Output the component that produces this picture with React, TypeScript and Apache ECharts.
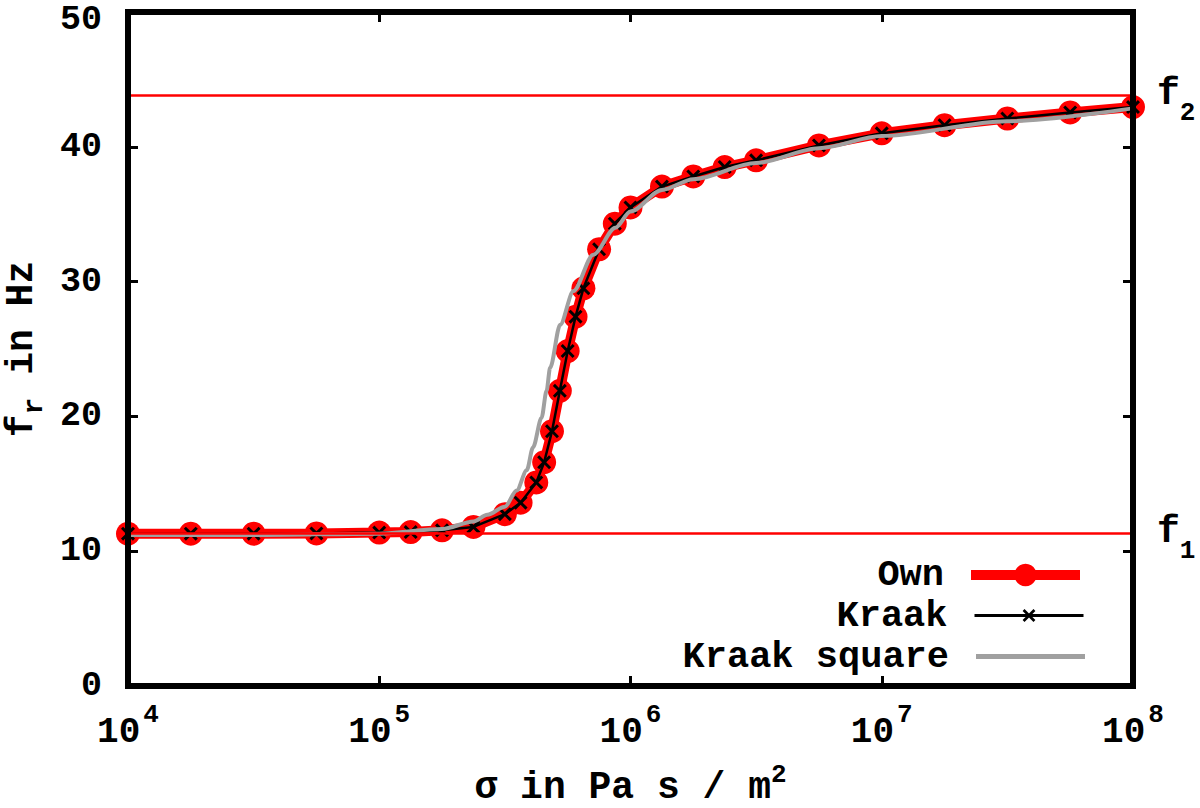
import React, { useEffect, useRef } from "react";
import * as echarts from "echarts";

// ---------- data ----------
const sigmaOwn = [
  1e4, 1.778e4, 3.162e4, 5.623e4, 1e5, 1.334e5, 1.778e5, 2.371e5, 3.162e5, 3.652e5,
  4.217e5, 4.532e5, 4.87e5, 5.233e5, 5.623e5, 6.043e5, 6.494e5, 7.499e5, 8.66e5, 1e6,
  1.334e6, 1.778e6, 2.371e6, 3.162e6, 5.623e6, 1e7, 1.778e7, 3.162e7, 5.623e7, 1e8,
];
const fOwn = [
  11.3, 11.3, 11.3, 11.32, 11.38, 11.42, 11.55, 11.8, 12.75, 13.6,
  15.1, 16.6, 18.9, 21.9, 24.85, 27.4, 29.5, 32.4, 34.3, 35.5,
  37.05, 37.8, 38.5, 39.0, 40.1, 41.0, 41.6, 42.1, 42.55, 42.95,
];
const sigmaKraak = [
  1e4, 1.778e4, 3.162e4, 5.623e4, 1e5, 1.334e5, 1.778e5, 2.371e5, 3.162e5, 3.652e5,
  4.217e5, 4.532e5, 4.87e5, 5.233e5, 5.623e5, 6.043e5, 6.494e5, 7.499e5, 8.66e5, 1e6,
  1.334e6, 1.778e6, 2.371e6, 3.162e6, 5.623e6, 1e7, 1.778e7, 3.162e7, 5.623e7, 1e8,
];
const fKraak = [
  11.3, 11.3, 11.3, 11.32, 11.38, 11.42, 11.55, 11.8, 12.75, 13.6,
  15.1, 16.6, 18.9, 21.9, 24.85, 27.4, 29.5, 32.4, 34.3, 35.5,
  37.05, 37.8, 38.5, 39.0, 40.1, 41.0, 41.6, 42.1, 42.55, 42.95,
];
const sigmaSquare = [
  1e4, 3.162e4, 1e5, 1.778e5, 2.371e5, 2.692e5, 3.162e5, 3.524e5, 3.864e5, 4.093e5,
  4.426e5, 4.634e5, 4.786e5, 5.248e5, 5.929e5, 7.112e5, 8.71e5, 1e6, 1.334e6, 1.778e6,
  3.162e6, 5.623e6, 1e7, 3.162e7, 1e8,
];
const fSquare = [
  11.2, 11.2, 11.3, 11.65, 12.2, 12.7, 13.3, 14.5, 16.0, 17.7,
  19.9, 21.9, 23.6, 26.8, 29.3, 32.0, 34.0, 35.2, 36.8, 37.6,
  38.8, 39.9, 40.8, 41.9, 42.85,
];
const f1Value = 11.3;
const f2Value = 43.8;
const xTickExponents = ["4", "5", "6", "7", "8"];
const yMax = 50;
const seriesNames = ["Own", "Kraak", "Kraak square"];

const FONT = "'Liberation Mono', 'DejaVu Sans Mono', monospace";
const CROSS =
  "path://M0,1.5L1.5,0L5,3.5L8.5,0L10,1.5L6.5,5L10,8.5L8.5,10L5,6.5L1.5,10L0,8.5L3.5,5Z";

const txt = (size: number, extra: any = {}) => ({
  fontFamily: FONT,
  fontWeight: "bold",
  fontSize: size,
  color: "#000",
  ...extra,
});

export default function App() {
  const ref = useRef<HTMLDivElement>(null);

  useEffect(() => {
    if (!ref.current) return;
    const chart = echarts.init(ref.current, undefined, { renderer: "svg" });

    const frameLine = { show: true, onZero: false, lineStyle: { color: "#000", width: 6, cap: "square" } };
    const tick = { show: true, inside: true, length: 10, lineStyle: { color: "#000", width: 3 } };

    const legendBase = {
      orient: "horizontal",
      align: "right",
      right: 115,
      padding: 0,
      itemWidth: 109,
      selectedMode: false,
      textStyle: txt(37, { lineHeight: 34, padding: [0, 22, 0, 0] }),
    };

    const option: any = {
      animation: false,
      backgroundColor: "#fff",
      textStyle: { fontFamily: FONT },
      grid: { left: 128, right: 67, top: 12, bottom: 122, outerBoundsMode: "none", containLabel: false },
      legend: [
        { ...legendBase, data: [{ name: seriesNames[0] }], top: 556.5, itemHeight: 28, lineStyle: { width: 10 } },
        { ...legendBase, data: [{ name: seriesNames[1] }], top: 597, itemHeight: 16, lineStyle: { width: 3 } },
        { ...legendBase, data: [{ name: seriesNames[2], icon: "rect" }], top: 638, itemHeight: 5 },
      ],
      xAxis: [
        {
          type: "log",
          logBase: 10,
          min: 1e4,
          max: 1e8,
          position: "bottom",
          z: 10,
          axisLine: frameLine,
          axisTick: tick,
          minorTick: { show: false },
          splitLine: { show: false },
          axisLabel: {
            margin: 16,
            formatter: (v: number) => {
              const i = Math.round(Math.log10(v)) - 4;
              return `{b|10}{s|${xTickExponents[i] ?? ""}}`;
            },
            rich: {
              b: txt(36, { lineHeight: 48, verticalAlign: "bottom" }),
              s: txt(26, { verticalAlign: "top", padding: [0, 0, 0, 3] }),
            },
          },
          name: "{a|σ in Pa s / m}{s|2}",
          nameLocation: "middle",
          nameGap: 76,
          nameMoveOverlap: false,
          nameTextStyle: {
            rich: {
              a: txt(38, { lineHeight: 44, verticalAlign: "bottom" }),
              s: txt(26, { verticalAlign: "top" }),
            },
          },
        },
        {
          type: "log",
          logBase: 10,
          min: 1e4,
          max: 1e8,
          position: "top",
          z: 10,
          axisLine: frameLine,
          axisTick: tick,
          minorTick: { show: false },
          splitLine: { show: false },
          axisLabel: { show: false },
        },
      ],
      yAxis: [
        {
          type: "value",
          min: 0,
          max: yMax,
          interval: 10,
          position: "left",
          z: 10,
          axisLine: frameLine,
          axisTick: tick,
          splitLine: { show: false },
          axisLabel: {
            margin: 26,
            lineHeight: 24,
            ...txt(35),
            formatter: (v: number) => (v === yMax ? `{t|${v}}` : `${v}`),
            rich: { t: txt(35, { lineHeight: 24, padding: [16, 0, 0, 0] }) },
          },
          name: "{a|f}{s|r}{a| in Hz}",
          nameLocation: "middle",
          nameRotate: 90,
          nameGap: 80,
          nameMoveOverlap: false,
          nameTextStyle: {
            rich: {
              a: txt(38, { lineHeight: 46, verticalAlign: "top" }),
              s: txt(28, { verticalAlign: "bottom" }),
            },
          },
        },
        {
          type: "value",
          min: 0,
          max: yMax,
          interval: 10,
          position: "right",
          z: 10,
          axisLine: frameLine,
          axisTick: tick,
          splitLine: { show: false },
          axisLabel: { show: false },
        },
      ],
      series: [
        {
          name: seriesNames[0],
          type: "line",
          xAxisIndex: 0,
          yAxisIndex: 0,
          clip: false,
          z: 2,
          data: sigmaOwn.map((s, i) => [s, fOwn[i]]),
          symbol: "circle",
          symbolSize: 24,
          itemStyle: { color: "#ff0000" },
          lineStyle: { color: "#ff0000", width: 10 },
          emphasis: { disabled: true },
          markLine: {
            silent: true,
            symbol: ["none", "none"],
            lineStyle: { color: "#ff0000", width: 2.5, type: "solid" },
            label: {
              show: true,
              position: "end",
              distance: 24,
              offset: [0, 4.5],
              rich: {
                f: txt(38, { lineHeight: 51, verticalAlign: "top" }),
                s: txt(26, { verticalAlign: "bottom" }),
              },
            },
            data: [
              { yAxis: f1Value, label: { formatter: "{f|f}{s|1}" } },
              { yAxis: f2Value, label: { formatter: "{f|f}{s|2}" } },
            ],
          },
        },
        {
          name: seriesNames[1],
          type: "line",
          xAxisIndex: 0,
          yAxisIndex: 0,
          clip: false,
          z: 3,
          data: sigmaKraak.map((s, i) => [s, fKraak[i]]),
          symbol: CROSS,
          symbolSize: 14,
          itemStyle: { color: "#000" },
          lineStyle: { color: "#000", width: 2.5 },
          emphasis: { disabled: true },
        },
        {
          name: seriesNames[2],
          type: "line",
          xAxisIndex: 0,
          yAxisIndex: 0,
          clip: false,
          z: 4,
          data: sigmaSquare.map((s, i) => [s, fSquare[i]]),
          symbol: "none",
          smooth: 0.3,
          smoothMonotone: "x",
          itemStyle: { color: "#a0a0a0" },
          lineStyle: { color: "#a0a0a0", width: 4 },
          emphasis: { disabled: true },
        },
      ],
    };

    chart.setOption(option);
    return () => chart.dispose();
  }, []);

  return (
    <div
      ref={ref}
      style={{ position: "fixed", left: 0, top: 0, width: 1200, height: 808, background: "#fff" }}
    />
  );
}
